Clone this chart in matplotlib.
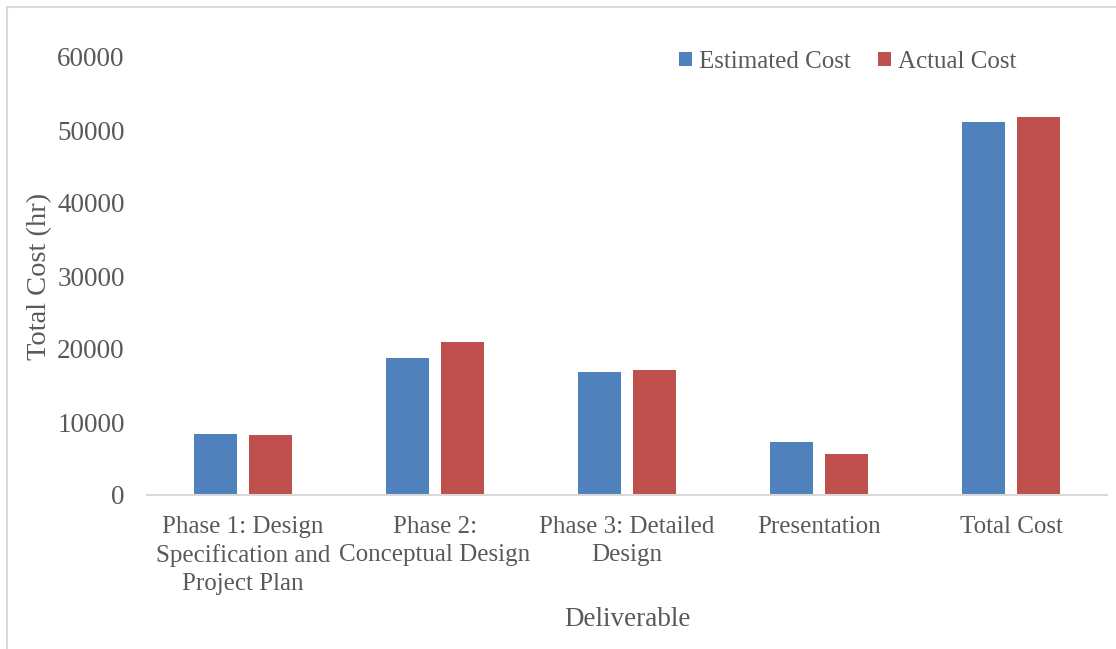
import numpy as np
import matplotlib.pyplot as plt
from matplotlib.lines import Line2D

# Cost per deliverable (hours)
deliverables = ['Phase 1: Design\nSpecification and\nProject Plan',
                'Phase 2:\nConceptual Design',
                'Phase 3: Detailed\nDesign',
                'Presentation',
                'Total Cost']
estimated_cost = [8350, 18800, 16850, 7200, 51100]
actual_cost = [8200, 20900, 17100, 5550, 51800]
y_ticks = [0, 10000, 20000, 30000, 40000, 50000, 60000]

blue = '#4f81bd'
red = '#c0504d'
grey_text = '#595959'

plt.rcParams['font.family'] = ['Liberation Serif', 'DejaVu Serif']
plt.rcParams['font.size'] = 19.5

W, H = 1116, 649
fig = plt.figure(figsize=(W / 100, H / 100), dpi=100)
ax = fig.add_axes([147 / W, 1 - 495 / H, 960 / W, 438 / H])

x = np.arange(len(deliverables))
width = 0.224
offset = 0.143
ax.bar(x - offset, estimated_cost, width, color=blue, label='Estimated Cost')
ax.bar(x + offset, actual_cost, width, color=red, label='Actual Cost')

ax.set_xlim(-0.5, len(deliverables) - 0.5)
ax.set_ylim(0, 60000)
ax.set_yticks(y_ticks)
ax.set_xticks(x)
ax.set_xticklabels(deliverables, linespacing=1.34, fontsize=18)

for side in ['top', 'right', 'left']:
    ax.spines[side].set_visible(False)
ax.spines['bottom'].set_color('#d9d9d9')
ax.spines['bottom'].set_linewidth(1.5)
ax.tick_params(axis='both', length=0, colors=grey_text)
ax.tick_params(axis='y', pad=16)
ax.tick_params(axis='x', pad=15)

ax.set_ylabel('Total Cost (hr)', color=grey_text, va='center', fontsize=20.5)
ax.yaxis.set_label_coords((40 - 147) / 960, 0.5)
ax.set_xlabel('Deliverable', color=grey_text, va='center')
ax.xaxis.set_label_coords(0.5, (495 - 620) / 438)

ax.legend(loc='center', bbox_to_anchor=(848 / W, 1 - 62 / H),
          bbox_transform=fig.transFigure, ncol=2, frameon=False,
          fontsize=18, handlelength=0.5, handleheight=0.5, handletextpad=0.3,
          columnspacing=1.1, labelcolor=grey_text)

# light frame around the chart area
fig.add_artist(Line2D([7 / W, 7 / W], [0, 1 - 7 / H], color='#d9d9d9', lw=1.5))
fig.add_artist(Line2D([7 / W, 1], [1 - 7 / H, 1 - 7 / H], color='#d9d9d9', lw=1.5))

fig.savefig('out.png', dpi=100)
